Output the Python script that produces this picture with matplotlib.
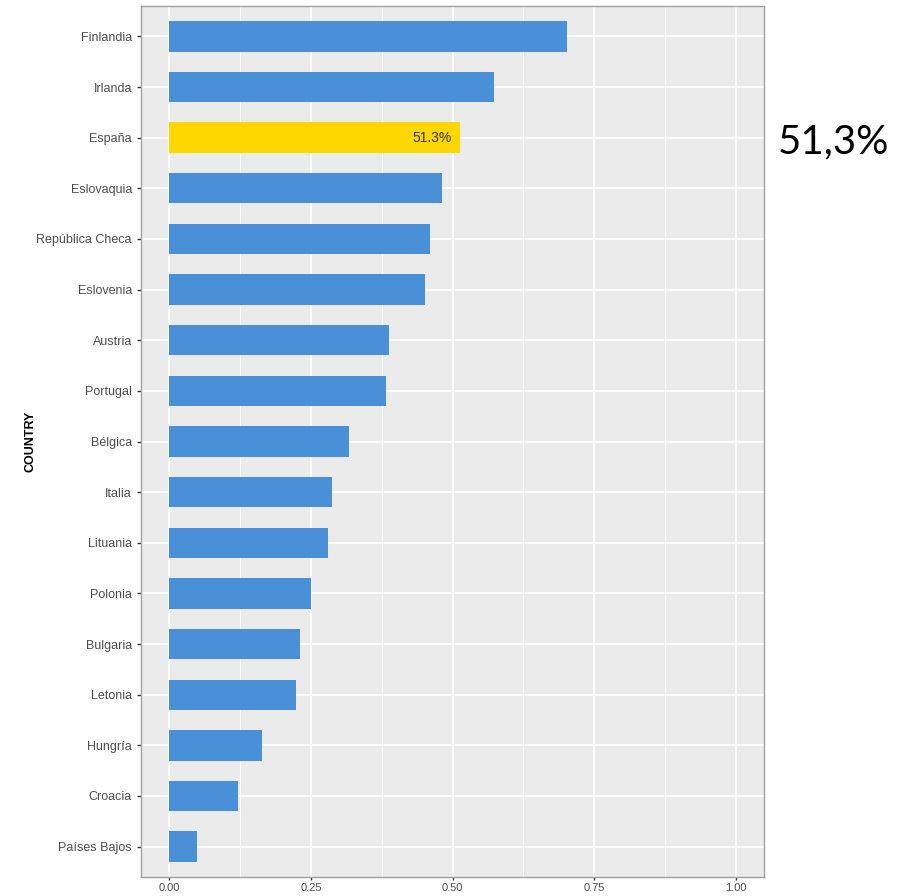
import matplotlib.pyplot as plt
import numpy as np

# datos (proporcion)
countries = ["Finlandia", "Irlanda", "España", "Eslovaquia", "República Checa",
             "Eslovenia", "Austria", "Portugal", "Bélgica", "Italia", "Lituania",
             "Polonia", "Bulgaria", "Letonia", "Hungría", "Croacia", "Países Bajos"]
values = [0.703, 0.574, 0.513, 0.481, 0.461, 0.451, 0.387, 0.382, 0.318,
          0.288, 0.281, 0.251, 0.231, 0.224, 0.163, 0.122, 0.048]
highlight = "España"
x_ticks = [0.0, 0.25, 0.5, 0.75, 1.0]
x_tick_labels = ["0.00", "0.25", "0.50", "0.75", "1.00"]

plt.rcParams['font.family'] = ['Liberation Sans', 'DejaVu Sans']

fig = plt.figure(figsize=(9.14, 8.96), dpi=100)
ax = fig.add_axes([141 / 914, 19 / 896, 623 / 914, 871 / 896])

n = len(countries)
ypos = np.arange(n)[::-1] + 1
colors = ["#FFD700" if c == highlight else "#4A90D9" for c in countries]
ax.barh(ypos, values, height=0.6, color=colors, zorder=3)

ax.set_facecolor("#EBEBEB")
ax.set_xlim(-0.05, 1.05)
ax.set_ylim(0.4, n + 0.6)
ax.set_yticks(ypos)
ax.set_yticklabels(countries, fontsize=9, color="#4D4D4D")
ax.set_xticks(x_ticks)
ax.set_xticklabels(x_tick_labels, fontsize=8, color="#4D4D4D")
ax.set_xticks([0.125, 0.375, 0.625, 0.875], minor=True)
ax.grid(True, which="major", color="white", linewidth=1.3, zorder=0)
ax.grid(True, which="minor", axis="x", color="white", linewidth=0.6, zorder=0)
ax.tick_params(axis="both", which="major", color="#333333", length=3, width=1)
ax.tick_params(axis="x", which="major", length=2.5, pad=1.5)
ax.tick_params(axis="x", which="minor", length=0)
for s in ax.spines.values():
    s.set_color("#A0A0A0")
    s.set_linewidth(1)
ax.set_axisbelow(True)

ax.set_ylabel("COUNTRY", fontsize=9, fontweight="bold", color="black")
ax.yaxis.set_label_coords((36 - 141) / 623, 0.5)

# etiqueta del valor de España
i = countries.index(highlight)
ax.text(values[i] - 0.015, ypos[i], f"{values[i] * 100:.1f}%", ha="right", va="center",
        fontsize=10, color="#333333", zorder=4)

fig.text(833 / 914, 1 - 142 / 896, f"{values[i] * 100:.1f}%".replace(".", ","),
         ha="center", va="center", fontsize=29, family=["Lato", "DejaVu Sans"])

fig.savefig("out.png", dpi=100)
